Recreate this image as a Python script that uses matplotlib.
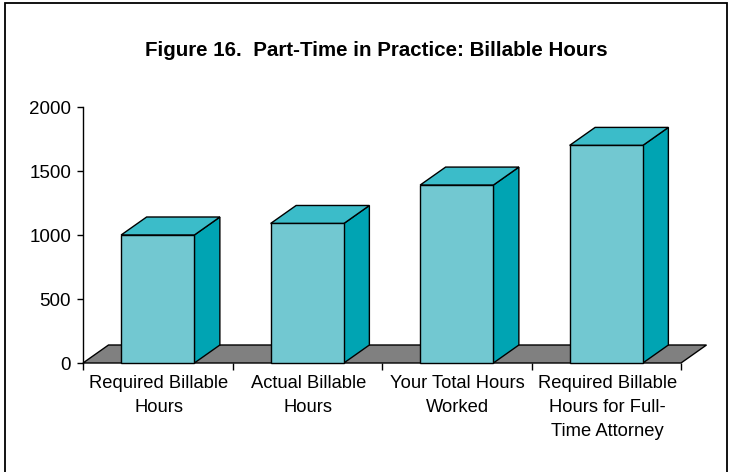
import matplotlib
matplotlib.use("Agg")
import matplotlib.pyplot as plt
from matplotlib.patches import Polygon, Rectangle
from matplotlib.transforms import offset_copy

categories = [
    "Required Billable\nHours",
    "Actual Billable\nHours",
    "Your Total Hours\nWorked",
    "Required Billable\nHours for Full-\nTime Attorney",
]
hours = [1000, 1090, 1390, 1700]
y_ticks = [0, 500, 1000, 1500, 2000]
title = "Figure 16.  Part-Time in Practice: Billable Hours"

FRONT = "#72C8D1"
TOP = "#3BBCC9"
SIDE = "#00A4B3"
FLOOR = "#808080"
EDGE = "#000000"

plt.rcParams["font.family"] = ["Liberation Sans", "DejaVu Sans"]

W, H, DPI = 730, 472, 100
fig = plt.figure(figsize=(W / DPI, H / DPI), dpi=DPI)
fig.patch.set_facecolor("white")

# plot area: front floor edge 83..681 px, value axis 0 at 363 px, 2000 at 107 px
left_px, right_px, zero_px, top_px = 83, 681, 363, 107
ax = fig.add_axes([left_px / W, (H - zero_px) / H,
                   (right_px - left_px) / W, (zero_px - top_px) / H])
ax.set_xlim(0, len(categories))
ax.set_ylim(0, 2000)

# depth offset of the 3-D look, expressed in data units
px_per_x = (right_px - left_px) / len(categories)
px_per_y = (zero_px - top_px) / 2000
dx = 25.5 / px_per_x
dy = 18 / px_per_y

lw = 1.0
floor = Polygon([(0, 0), (len(categories), 0),
                 (len(categories) + dx, dy), (dx, dy)],
                closed=True, facecolor=FLOOR, edgecolor=EDGE, lw=lw,
                clip_on=False, zorder=1)
ax.add_patch(floor)

bar_w = 0.49
for i, h in enumerate(hours):
    x0 = i + 0.5 - bar_w / 2
    x1 = i + 0.5 + bar_w / 2
    side = Polygon([(x1, 0), (x1 + dx, dy), (x1 + dx, h + dy), (x1, h)],
                   closed=True, facecolor=SIDE, edgecolor=EDGE, lw=lw,
                   clip_on=False, zorder=2)
    top = Polygon([(x0, h), (x1, h), (x1 + dx, h + dy), (x0 + dx, h + dy)],
                  closed=True, facecolor=TOP, edgecolor=EDGE, lw=lw,
                  clip_on=False, zorder=2)
    front = Rectangle((x0, 0), bar_w, h, facecolor=FRONT, edgecolor=EDGE,
                      lw=lw, clip_on=False, zorder=3)
    ax.add_patch(side)
    ax.add_patch(top)
    ax.add_patch(front)

for s in ["top", "right", "bottom"]:
    ax.spines[s].set_visible(False)
ax.spines["left"].set_linewidth(1.0)
ax.spines["left"].set_zorder(4)
ax.set_facecolor("none")

ax.set_yticks(y_ticks)
ax.set_yticklabels([str(v) for v in y_ticks])
ax.tick_params(axis="y", direction="out", length=4, width=1,
               labelsize=13.5, pad=4.5)

# category boundaries carry the tick marks; labels sit between them
ax.set_xticks(range(len(categories) + 1))
ax.set_xticklabels([""] * (len(categories) + 1))
ax.tick_params(axis="x", direction="out", length=5, width=1)
label_tr = offset_copy(ax.get_xaxis_transform(), fig=fig,
                       x=1 * 72 / DPI, y=-12 * 72 / DPI, units="points")
for i, lab in enumerate(categories):
    ax.text(i + 0.5, 0, lab, ha="center", va="top", fontsize=13.2,
            linespacing=1.55, transform=label_tr, clip_on=False)

fig.text(376.5 / W, 1 - 56 / H, title, ha="center", va="baseline",
         fontsize=14.8, fontweight="bold")

# outer frame of the figure
frame = Rectangle((4.5 / W, -0.05), (727 - 4.5) / W, 1.05 - 3.5 / H,
                  transform=fig.transFigure, fill=False, edgecolor="black",
                  lw=1.3, clip_on=False)
fig.patches.append(frame)

fig.savefig("out.png", dpi=DPI)
